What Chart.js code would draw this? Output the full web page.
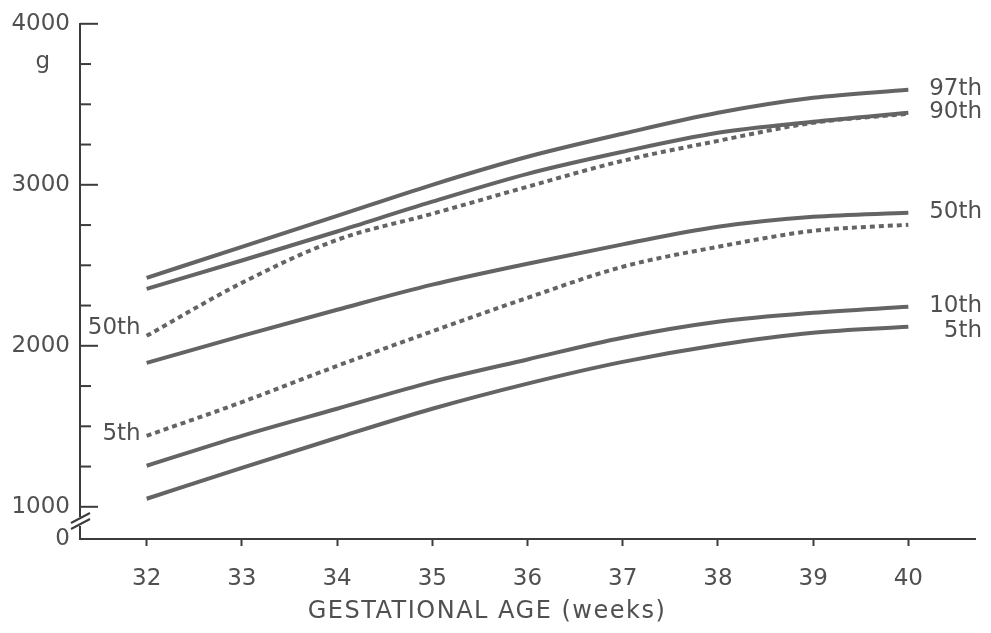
<!DOCTYPE html>
<html>
<head>
<meta charset="utf-8">
<script src="https://cdn.jsdelivr.net/npm/chart.js@4"></script>
<style>
  html, body { margin: 0; padding: 0; background: #fff; }
  #wrap { width: 991px; height: 633px; position: relative; }
</style>
</head>
<body>
<div id="wrap"><canvas id="chart"></canvas></div>
<script>
// gestational age (weeks)
const weeks = [32, 33, 34, 35, 36, 37, 38, 39, 40];

// solid percentile curves (g)
const p97 = [2422, 2615, 2807, 3000, 3174, 3317, 3447, 3540, 3590];
const p90 = [2354, 2530, 2710, 2895, 3068, 3205, 3323, 3391, 3447];
const p50 = [1894, 2062, 2224, 2380, 2510, 2630, 2739, 2801, 2826];
const p10 = [1255, 1441, 1609, 1776, 1915, 2050, 2149, 2205, 2242];
const p5  = [1050, 1242, 1429, 1609, 1765, 1900, 2005, 2081, 2118];

// dashed curves
const d50 = [2062, 2391, 2658, 2820, 2988, 3149, 3273, 3385, 3441];
const d5  = [1441, 1650, 1875, 2090, 2298, 2491, 2615, 2714, 2752];

const yTicks = [1000, 1250, 1500, 1750, 2000, 2250, 2500, 2750, 3000, 3250, 3500, 3750, 4000];

const FONT = '"DejaVu Sans", sans-serif';
const INK = '#505050';
const LINE = '#646464';

const series = [
  { name: '97th', data: p97, dashed: false, side: 'right' },
  { name: '90th', data: p90, dashed: false, side: 'right' },
  { name: '50th', data: p50, dashed: false, side: 'right' },
  { name: '10th', data: p10, dashed: false, side: 'right' },
  { name: '5th',  data: p5,  dashed: false, side: 'right' },
  { name: '50th', data: d50, dashed: true,  side: 'left' },
  { name: '5th',  data: d5,  dashed: true,  side: 'left' },
];

const deco = {
  id: 'deco',
  afterDraw(chart) {
    const ctx = chart.ctx;
    const xs = chart.scales.x, ys = chart.scales.y;
    const ax = xs.left;
    ctx.save();
    ctx.strokeStyle = '#3c3c3c';
    ctx.lineWidth = 2;
    // inward y ticks
    for (const v of yTicks) {
      const y = ys.getPixelForValue(v);
      ctx.beginPath();
      ctx.moveTo(ax, y);
      ctx.lineTo(ax + (v % 1000 === 0 ? 18 : 11), y);
      ctx.stroke();
    }
    // axis break
    const b = ys.bottom - 17;
    ctx.fillStyle = '#fff';
    ctx.fillRect(ax - 4, b - 5, 8, 9);
    ctx.beginPath();
    ctx.moveTo(ax - 9, b + 1); ctx.lineTo(ax + 10, b - 9);
    ctx.moveTo(ax - 9, b + 7); ctx.lineTo(ax + 10, b - 3);
    ctx.stroke();

    ctx.fillStyle = INK;
    ctx.font = '23px ' + FONT;
    ctx.textBaseline = 'middle';
    // unit
    ctx.textAlign = 'right';
    ctx.fillText('g', ax - 30, ys.getPixelForValue(3750) - 2);

    // curve labels
    for (const s of series) {
      if (s.side === 'right') {
        const y = ys.getPixelForValue(s.data[s.data.length - 1]);
        ctx.textAlign = 'right';
        ctx.fillText(s.name, xs.right + 7, y + (s.name === '5th' ? 4 : -1));
      } else {
        const y = ys.getPixelForValue(s.data[0]);
        ctx.textAlign = 'right';
        ctx.fillText(s.name, xs.getPixelForValue(weeks[0]) - 6, y - (s.name === '50th' ? 8 : 2));
      }
    }
    // axis title
    ctx.textAlign = 'center';
    ctx.font = '24px ' + FONT;
    ctx.letterSpacing = '1.5px';
    ctx.fillText('GESTATIONAL AGE (weeks)', 487, 612);
    ctx.restore();
  }
};

new Chart(document.getElementById('chart'), {
  type: 'line',
  data: {
    datasets: series.map(s => ({
      label: s.name,
      data: weeks.map((w, i) => ({ x: w, y: s.data[i] })),
      borderColor: LINE,
      borderWidth: 4,
      borderDash: s.dashed ? [5, 4] : [],
      borderCapStyle: 'butt',
      pointRadius: 0,
      cubicInterpolationMode: 'monotone',
      fill: false,
    })).reverse()
  },
  options: {
    responsive: true,
    maintainAspectRatio: false,
    animation: false,
    layout: { padding: { top: 23, right: 16, left: 0, bottom: 0 } },
    plugins: { legend: { display: false }, tooltip: { enabled: false } },
    scales: {
      x: {
        type: 'linear',
        min: 31.3,
        max: 40.7,
        afterBuildTicks: (sc) => { sc.ticks = weeks.map(v => ({ value: v })); },
        afterFit: (sc) => { sc.height = 94; },
        ticks: { color: INK, font: { family: FONT, size: 23 }, padding: 19, maxRotation: 0 },
        grid: { drawOnChartArea: false, drawTicks: true, tickLength: 7, tickWidth: 2, tickColor: '#3c3c3c' },
        border: { display: true, color: '#3c3c3c', width: 2 },
      },
      y: {
        type: 'linear',
        min: 800,
        max: 4000,
        afterBuildTicks: (sc) => { sc.ticks = [800, 1000, 2000, 3000, 4000].map(v => ({ value: v })); },
        afterFit: (sc) => { sc.width = 80; },
        ticks: {
          color: INK, font: { family: FONT, size: 23 }, padding: 10,
          callback: (v) => (v === 800 ? '0' : String(v)),
        },
        grid: { drawOnChartArea: false, drawTicks: false },
        border: { display: true, color: '#3c3c3c', width: 2 },
      }
    }
  },
  plugins: [deco]
});
</script>
</body>
</html>
